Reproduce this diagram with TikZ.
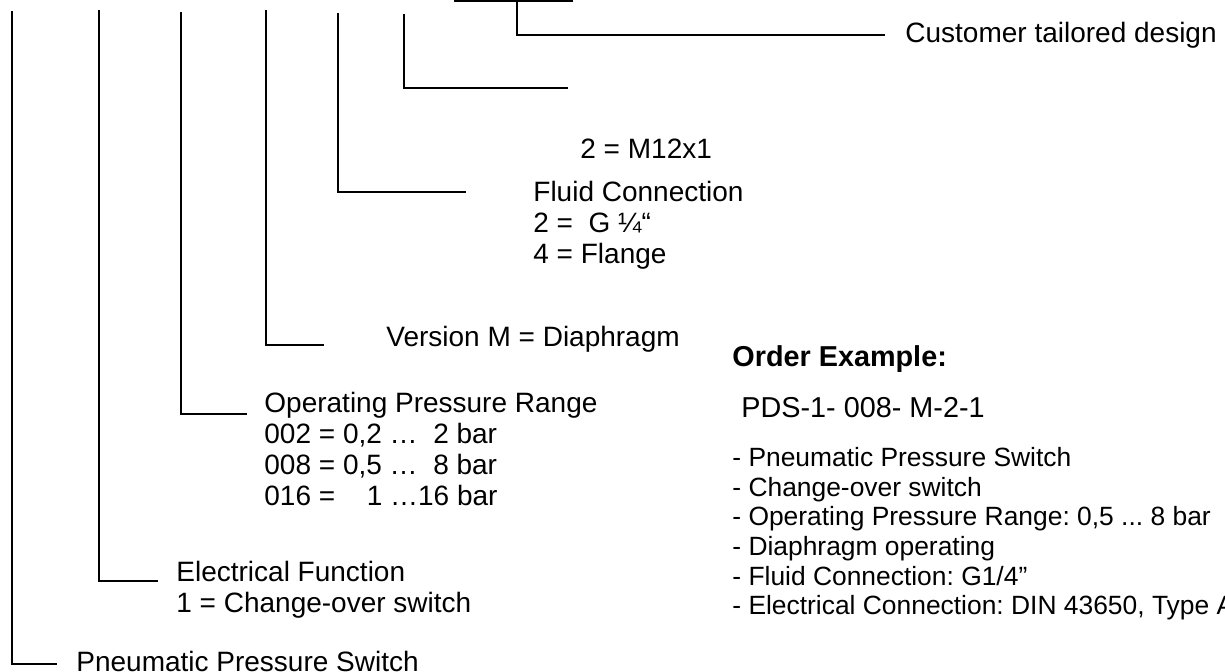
\documentclass[tikz,border=0pt]{standalone}
\usepackage{fontspec}
\setmainfont{Liberation Sans}

\begin{document}
\frenchspacing
\begin{tikzpicture}[x=0.5pt, y=-0.5pt, every node/.style={inner sep=0pt, anchor=base west, align=left}, bracket/.style={line width=1pt}]
  \fontsize{14}{15.5}\selectfont
  \clip (0,0) rectangle (1225,672);
  % tops of the brackets
  \coordinate (t1) at (12,11);
  \coordinate (t2) at (99,10);
  \coordinate (t3) at (181,12);
  \coordinate (t4) at (266,10);
  \coordinate (t5) at (338,13);
  \coordinate (t6) at (404,14);
  \coordinate (t7) at (517,1);
  % free ends of the brackets
  \coordinate (e1) at (57,664);
  \coordinate (e2) at (158,581);
  \coordinate (e3) at (247,414);
  \coordinate (e4) at (324,345);
  \coordinate (e5) at (466,192);
  \coordinate (e6) at (568,88);
  \coordinate (e7) at (885,35);
  \coordinate (barl) at (454,1);
  \coordinate (barr) at (573,1);
  % labels (multi-line ones sit on their last baseline)
  \node (pneu) at (76,671) {Pneumatic Pressure Switch};
  \node (elec) at (176,613) {Electrical Function\\1 = Change-over switch};
  \node (oprange) at (264,506) {Operating Pressure Range\\002 = 0,2 …\ \ 2 bar\\008 = 0,5 …\ \ 8 bar\\016 =\hspace{15.8pt}1 …16 bar};
  \node (version) at (386,347) {Version M = Diaphragm};
  \node (fluid) at (533,264) {Fluid Connection\\2 =\ \ G ¼“\\4 = Flange};
  \node (m12) at (580,159) {2 = M12x1};
  \node (custom) at (905,43) {Customer tailored design};
  % order example
  \node[font=\fontsize{14.4}{16}\selectfont\bfseries] (oex) at (732,367) {Order Example:};
  \node[font=\fontsize{14.4}{16}\selectfont] (pds) at (741,418) {PDS-1- 008- M-2-1};
  \node[font=\fontsize{13.2}{14.85}\selectfont] (oexlist) at (732,615) {- Pneumatic Pressure Switch\\- Change-over switch\\- Operating Pressure Range: 0,5 ... 8 bar\\- Diaphragm operating\\- Fluid Connection: G1/4”\\- Electrical Connection: DIN 43650, Type A};
  % brackets
  \draw[line width=1.5pt] (barl) -- (barr);
  \draw[bracket] (t1) |- (e1);
  \draw[bracket] (t2) |- (e2);
  \draw[bracket] (t3) |- (e3);
  \draw[bracket] (t4) |- (e4);
  \draw[bracket] (t5) |- (e5);
  \draw[bracket] (t6) |- (e6);
  \draw[bracket] (t7) |- (e7);
\end{tikzpicture}
\end{document}
